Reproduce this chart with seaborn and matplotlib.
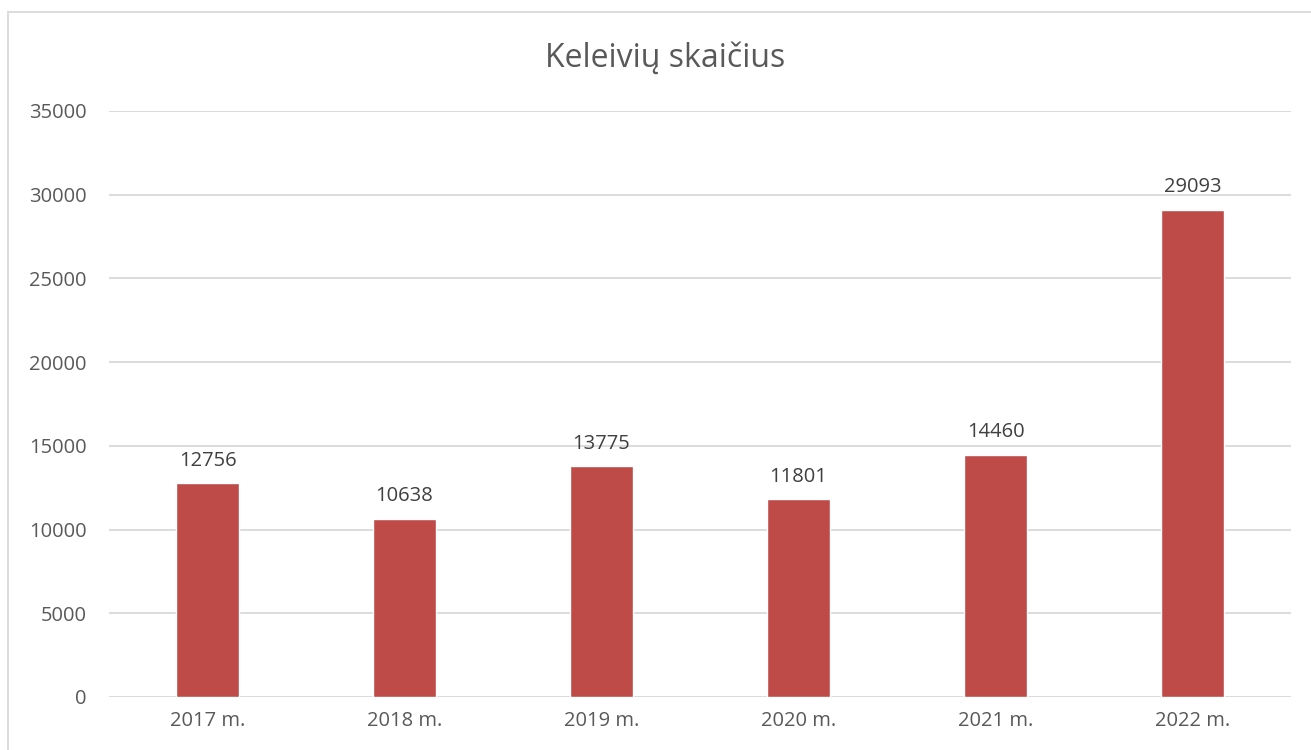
import matplotlib
matplotlib.use("Agg")
import matplotlib.pyplot as plt
import seaborn as sns
import pandas as pd
from matplotlib.patches import Rectangle

categories = ["2017 m.", "2018 m.", "2019 m.", "2020 m.", "2021 m.", "2022 m."]
values = [12756, 10638, 13775, 11801, 14460, 29093]
yticks = [0, 5000, 10000, 15000, 20000, 25000, 30000, 35000]
title = "Keleivių skaičius"

sns.set_theme(style="white")
plt.rcParams['font.family'] = ['Open Sans', 'DejaVu Sans']

txt = "#595959"
df = pd.DataFrame({"cat": categories, "val": values})

fig = plt.figure(figsize=(13.11, 7.5), dpi=100)
ax = fig.add_axes([109/1311, 1 - 697/750, (1291-109)/1311, (697-111)/750])
sns.barplot(data=df, x="cat", y="val", color="#BE4B48", saturation=1, width=0.315, ax=ax)

ax.set_ylim(0, 35000)
ax.set_yticks(yticks)
ax.set_yticklabels([str(v) for v in yticks])
ax.set_xlim(-0.5, len(categories) - 0.5)
ax.grid(axis="y", color="#D9D9D9", linewidth=1.3)
ax.set_axisbelow(True)
for s in ax.spines.values():
    s.set_visible(False)
ax.set_xlabel("")
ax.set_ylabel("")
ax.tick_params(axis="both", length=0, labelsize=14.5, labelcolor=txt)
ax.tick_params(axis="y", pad=16)
ax.tick_params(axis="x", pad=10)

for c in ax.containers:
    ax.bar_label(c, labels=[str(v) for v in values], padding=9, fontsize=14.5, color="#404040")

fig.text(665/1311, 1 - 58/750, title, ha="center", va="center", fontsize=23, color=txt)

fig.patches.append(Rectangle((8/1311, -0.1), 1.2, 1 - 12/750 + 0.1, transform=fig.transFigure,
                             fill=False, edgecolor="#D9D9D9", linewidth=1.3))

fig.savefig("out.png", dpi=100)
